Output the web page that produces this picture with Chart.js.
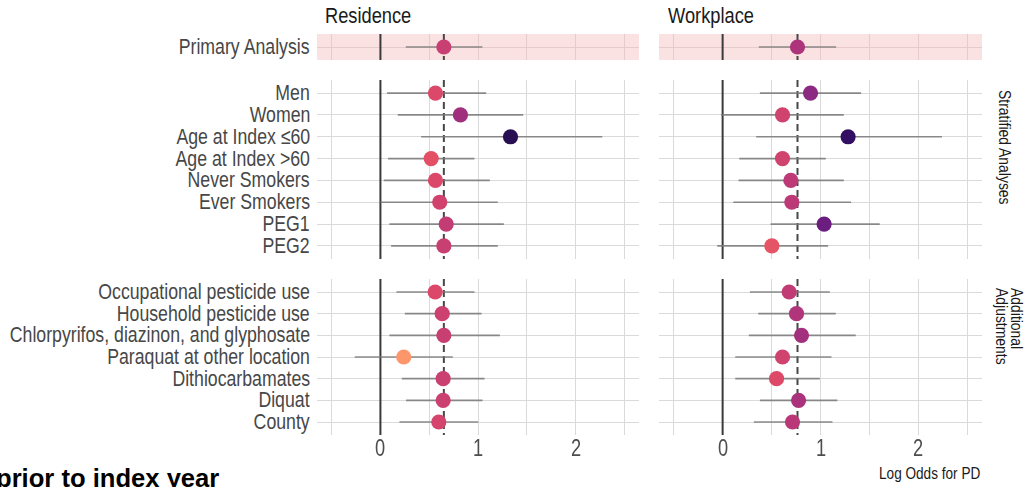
<!DOCTYPE html>
<html>
<head>
<meta charset="utf-8">
<script src="https://cdn.jsdelivr.net/npm/chart.js@4.4.1/dist/chart.umd.min.js"></script>
<style>
  html, body { margin: 0; padding: 0; background: #ffffff; }
  body { width: 1027px; height: 487px; position: relative; overflow: hidden;
         font-family: 'Liberation Sans', Arial, sans-serif; }
  canvas { position: absolute; }
  .txt { position: absolute; white-space: nowrap; }
  .title { font-size: 22px; line-height: 22px; color: #1a1a1a; top: 5.4px;
           transform-origin: 0 50%; transform: scaleX(0.83); }
  .strip { font-size: 16.8px; line-height: 16.8px; color: #1a1a1a; transform-origin: 0 0;
           transform: rotate(90deg) scaleX(0.83); }
  .ylab { font-size: 22px; line-height: 22px; height: 22px; color: #474747; text-align: right;
          transform-origin: 100% 50%; transform: scaleX(0.805); }
  .xlab { font-size: 24px; line-height: 24px; height: 24px; width: 40px; color: #4d4d4d; text-align: center;
          transform-origin: 50% 50%; transform: scaleX(0.76); }
</style>
</head>
<body>

<div class="txt title" style="left:325px;">Residence</div>
<div class="txt title" style="left:668px;">Workplace</div>
<div class="txt strip" style="left:1012.2px; top:90px;">Stratified Analyses</div>
<div class="txt strip" style="left:1022.8px; top:288px; line-height:14.5px;">Additional<br>Adjustments</div>
<div class="txt" style="right:47px; top:464.5px; font-size:16.3px; line-height:16.3px; color:#1a1a1a;
     transform-origin:100% 50%; transform:scaleX(0.835);">Log Odds for PD</div>
<div class="txt" style="left:-4px; top:465px; font-weight:bold; font-size:25.6px; line-height:26px; color:#000;">prior to index year</div>

<canvas id="resPrimary"></canvas>
<canvas id="workPrimary"></canvas>
<canvas id="resStrat"></canvas>
<canvas id="workStrat"></canvas>
<canvas id="resAdjust"></canvas>
<canvas id="workAdjust"></canvas>

<script>
// ---- row labels ----
const primaryLabels = ['Primary Analysis'];
const stratLabels = ['Men', 'Women', 'Age at Index \u226460', 'Age at Index >60',
                     'Never Smokers', 'Ever Smokers', 'PEG1', 'PEG2'];
const adjustLabels = ['Occupational pesticide use', 'Household pesticide use',
                      'Chlorpyrifos, diazinon, and glyphosate', 'Paraquat at other location',
                      'Dithiocarbamates', 'Diquat', 'County'];

// ---- x axis (log odds) ----
const xGridValues = [-0.5, 0, 0.5, 1, 1.5, 2, 2.5];
const xTickLabels = [0, 1, 2];

// ---- Residence: estimate, lower and upper bounds ----
const resPrimaryEst  = [0.65];
const resPrimaryLow  = [0.26];
const resPrimaryHigh = [1.045];

const resStratEst  = [0.564, 0.82, 1.333, 0.52, 0.564, 0.608, 0.674, 0.65];
const resStratLow  = [0.068, 0.178, 0.417, 0.079, 0.034, 0.0, 0.092, 0.109];
const resStratHigh = [1.084, 1.463, 2.274, 0.964, 1.121, 1.203, 1.265, 1.203];

const resAdjustEst  = [0.561, 0.633, 0.65, 0.239, 0.643, 0.643, 0.598];
const resAdjustLow  = [0.164, 0.25, 0.092, -0.263, 0.219, 0.263, 0.195];
const resAdjustHigh = [0.964, 1.036, 1.224, 0.742, 1.067, 1.046, 1.002];

// ---- Workplace: estimate, lower and upper bounds ----
const workPrimaryEst  = [0.765];
const workPrimaryLow  = [0.37];
const workPrimaryHigh = [1.16];

const workStratEst  = [0.898, 0.612, 1.282, 0.612, 0.697, 0.707, 1.037, 0.503];
const workStratLow  = [0.381, -0.017, 0.343, 0.17, 0.163, 0.109, 0.49, -0.055];
const workStratHigh = [1.415, 1.238, 2.241, 1.054, 1.238, 1.312, 1.605, 1.078];

const workAdjustEst  = [0.68, 0.755, 0.806, 0.612, 0.551, 0.776, 0.714];
const workAdjustLow  = [0.279, 0.364, 0.268, 0.129, 0.129, 0.381, 0.319];
const workAdjustHigh = [1.095, 1.156, 1.36, 1.112, 0.993, 1.173, 1.122];

// ---- continuous magma colour scale keyed on the estimate ----
const magmaStops = ['#000004', '#140e36', '#3b0f70', '#641a80', '#8c2981', '#b73779',
                    '#de4968', '#f7705c', '#fe9f6d', '#fecf92', '#fcfdbf'];
const allEst = [].concat(resPrimaryEst, resStratEst, resAdjustEst,
                         workPrimaryEst, workStratEst, workAdjustEst);
const estMin = Math.min(...allEst), estMax = Math.max(...allEst);
const T_AT_MIN = 0.78, T_AT_MAX = 0.15;

function hexRgb(h) {
  return [parseInt(h.slice(1, 3), 16), parseInt(h.slice(3, 5), 16), parseInt(h.slice(5, 7), 16)];
}
function magma(t) {
  t = Math.max(0, Math.min(1, t));
  const p = t * (magmaStops.length - 1);
  const i = Math.min(Math.floor(p), magmaStops.length - 2);
  const f = p - i;
  const a = hexRgb(magmaStops[i]), b = hexRgb(magmaStops[i + 1]);
  const c = a.map((v, k) => Math.round(v + (b[k] - v) * f));
  return 'rgb(' + c.join(',') + ')';
}
function estColour(v) {
  const u = (v - estMin) / (estMax - estMin);
  return magma(T_AT_MIN + u * (T_AT_MAX - T_AT_MIN));
}

// ---- shared look ----
const GRID = '#dadada';
const X_MIN = -0.65, X_MAX = 2.65;
const PAD = 0.6;
const LABEL_GAP = 7;

// shaded panel background
const panelFill = {
  id: 'panelFill',
  beforeDraw(chart, args, opts) {
    if (!opts.color) return;
    const a = chart.chartArea, ctx = chart.ctx;
    ctx.save();
    ctx.fillStyle = opts.color;
    ctx.fillRect(a.left, a.top, a.right - a.left, a.bottom - a.top);
    ctx.restore();
  }
};

function addText(text, cls, css) {
  const d = document.createElement('div');
  d.className = 'txt ' + cls;
  d.textContent = text;
  Object.assign(d.style, css);
  document.body.appendChild(d);
  return d;
}

function panel(id, opt) {
  const el = document.getElementById(id);
  el.width = opt.w;
  el.height = opt.h;
  el.style.left = opt.left + 'px';
  el.style.top = opt.top + 'px';
  el.style.width = opt.w + 'px';
  el.style.height = opt.h + 'px';

  const n = opt.labels.length;
  const yLo = -PAD, yHi = n - 1 + PAD;
  const datasets = [];

  // estimates
  datasets.push({
    type: 'scatter',
    data: opt.est.map((v, i) => ({ x: v, y: i })),
    pointRadius: 7.6,
    pointHoverRadius: 7.6,
    pointBorderWidth: 0,
    pointBackgroundColor: opt.est.map(estColour),
    order: 0
  });
  // confidence intervals
  opt.est.forEach((v, i) => {
    datasets.push({
      type: 'line',
      data: [{ x: opt.low[i], y: i }, { x: opt.high[i], y: i }],
      borderColor: 'rgba(120,120,120,0.85)',
      borderWidth: 1.7,
      pointRadius: 0,
      showLine: true,
      order: 1
    });
  });
  // reference line at the primary estimate
  datasets.push({
    type: 'line',
    data: [{ x: opt.ref, y: yLo }, { x: opt.ref, y: yHi }],
    borderColor: '#474747',
    borderWidth: 2,
    borderDash: [7, 4],
    pointRadius: 0,
    showLine: true,
    order: 2
  });
  // null line
  datasets.push({
    type: 'line',
    data: [{ x: 0, y: yLo }, { x: 0, y: yHi }],
    borderColor: '#3a3a3a',
    borderWidth: 2,
    pointRadius: 0,
    showLine: true,
    order: 3
  });

  const gridColour = opt.bg ? '#e6cacc' : GRID;

  const chart = new Chart(el, {
    type: 'scatter',
    data: { datasets },
    plugins: [panelFill],
    options: {
      responsive: false,
      animation: false,
      events: [],
      layout: { padding: 0, autoPadding: false },
      plugins: {
        legend: { display: false },
        tooltip: { enabled: false },
        panelFill: { color: opt.bg || null }
      },
      scales: {
        x: {
          type: 'linear',
          min: X_MIN, max: X_MAX,
          afterBuildTicks: s => { s.ticks = xGridValues.map(v => ({ value: v })); },
          afterFit: s => { s.height = 0; },
          grid: { color: gridColour, lineWidth: 1, drawTicks: false },
          border: { display: false },
          ticks: { display: false }
        },
        y: {
          type: 'linear',
          reverse: true,
          min: yLo, max: yHi,
          afterBuildTicks: s => { s.ticks = opt.labels.map((_, i) => ({ value: i })); },
          afterFit: s => { s.width = 0; },
          grid: { color: gridColour, lineWidth: 1, drawTicks: false },
          border: { display: false },
          ticks: { display: false }
        }
      }
    }
  });

  // row labels placed from the y scale
  if (opt.yLabels) {
    const ys = chart.scales.y;
    const rightEdge = opt.left + chart.chartArea.left - LABEL_GAP;
    opt.labels.forEach((lab, i) => {
      const cy = opt.top + ys.getPixelForValue(i);
      addText(lab, 'ylab', { right: (1027 - rightEdge) + 'px', top: (cy - 11) + 'px' });
    });
  }
  // tick labels placed from the x scale
  if (opt.xLabels) {
    const xs = chart.scales.x;
    const base = opt.top + chart.chartArea.bottom;
    xTickLabels.forEach(v => {
      const cx = opt.left + xs.getPixelForValue(v);
      addText(String(v), 'xlab', { left: (cx - 20) + 'px', top: (base + 0.5) + 'px' });
    });
  }
  return chart;
}

const PINK = '#fbe2e2';
const LEFT_COL = { left: 317, w: 322 };
const RIGHT_COL = { left: 659, w: 323 };

panel('resPrimary', { ...LEFT_COL, top: 34, h: 26, labels: primaryLabels, yLabels: true,
  est: resPrimaryEst, low: resPrimaryLow, high: resPrimaryHigh, ref: resPrimaryEst[0], bg: PINK });
panel('workPrimary', { ...RIGHT_COL, top: 34, h: 26, labels: primaryLabels,
  est: workPrimaryEst, low: workPrimaryLow, high: workPrimaryHigh, ref: workPrimaryEst[0], bg: PINK });

panel('resStrat', { ...LEFT_COL, top: 80, h: 179, labels: stratLabels, yLabels: true,
  est: resStratEst, low: resStratLow, high: resStratHigh, ref: resPrimaryEst[0] });
panel('workStrat', { ...RIGHT_COL, top: 80, h: 179, labels: stratLabels,
  est: workStratEst, low: workStratLow, high: workStratHigh, ref: workPrimaryEst[0] });

panel('resAdjust', { ...LEFT_COL, top: 279, h: 156, labels: adjustLabels, yLabels: true, xLabels: true,
  est: resAdjustEst, low: resAdjustLow, high: resAdjustHigh, ref: resPrimaryEst[0] });
panel('workAdjust', { ...RIGHT_COL, top: 279, h: 156, labels: adjustLabels, xLabels: true,
  est: workAdjustEst, low: workAdjustLow, high: workAdjustHigh, ref: workPrimaryEst[0] });
</script>
</body>
</html>
